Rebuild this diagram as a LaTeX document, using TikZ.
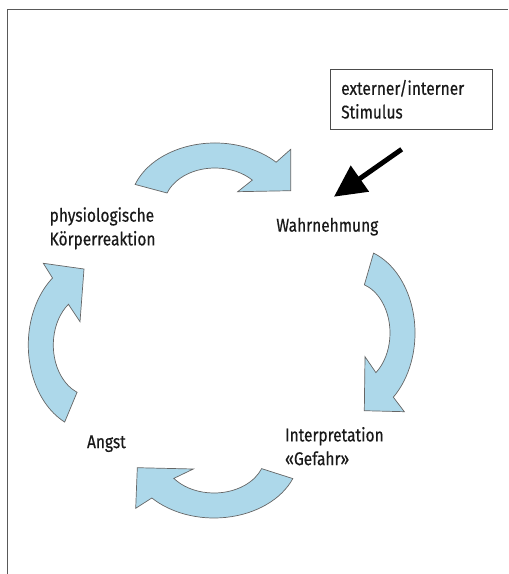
\documentclass[tikz,border=0pt]{standalone}
\usepackage{fontspec}
\setmainfont[FakeStretch=0.84, FakeBold=0.5]{Fira Sans}
\usetikzlibrary{arrows.meta}

\definecolor{arrowblue}{RGB}{173,216,234}

\begin{document}
\begin{tikzpicture}[x=0.02cm, y=-0.02cm, >=Latex,
  font=\fontsize{10.5}{13.5}\selectfont,
  bigarrow/.style={fill=arrowblue, draw=black!60, line width=0.4pt, line join=miter},
  txt/.style={inner sep=0pt, anchor=west, align=left, text=black!90}]
  \useasboundingbox (0,0) rectangle (508,574);

  % frame, cut off at right and bottom
  \draw[black!65, line width=0.8pt] (7.3,574) -- (7.3,9.3) -- (508,9.3);

  \node[txt] (koerper) at (49.3,228.3) {physiologische\\Körperreaktion};
  \node[txt] (wahr) at (276,226.7) {Wahrnehmung};
  \node[txt] (interp) at (284.7,446.2) {Interpretation\\«Gefahr»};
  \node[txt] (angst) at (86.7,443.7) {Angst};

  \node[draw=black!70, line width=0.6pt, minimum width=3.24cm, minimum height=1.2cm,
    text width=2.82cm, inner xsep=0.21cm, align=left, text=black!90] (stim) at (411.7,99.3)
    {externer/interner\\Stimulus};

  % curved block arrows
  \draw[bigarrow] (215,206) ++(-160:85 and 63)
    arc[start angle=-160, end angle=-44, x radius=85, y radius=63]
    -- (290.7,149.3) -- (290.7,190.7) -- (237.7,191.7)
    -- ([shift={(215,206)}]-43:51 and 38)
    arc[start angle=-43, end angle=-160, x radius=51, y radius=38] -- cycle;
  \draw[bigarrow] (352,333) ++(-70:63 and 85)
    arc[start angle=-70, end angle=49, x radius=63, y radius=85]
    -- (404.3,411.7) -- (364.3,410.7) -- (365,356.7)
    -- ([shift={(352,333)}]51:38 and 51)
    arc[start angle=51, end angle=-71, x radius=38, y radius=51] -- cycle;
  \draw[bigarrow] (214,455) ++(22:85 and 63)
    arc[start angle=22, end angle=137, x radius=85, y radius=63]
    -- (135.7,508.3) -- (137.3,467.7) -- (193.3,469)
    -- ([shift={(214,455)}]142:51 and 38)
    arc[start angle=142, end angle=21, x radius=51, y radius=38] -- cycle;
  \draw[bigarrow] (91.3,345) ++(115:63 and 85)
    arc[start angle=115, end angle=232, x radius=63, y radius=85]
    -- (43.3,263.3) -- (84,269) -- (80,321.7)
    -- ([shift={(91.3,345)}]233:38 and 51)
    arc[start angle=233, end angle=112, x radius=38, y radius=51] -- cycle;

  % stimulus arrow
  \coordinate (stimtail) at (401.7,149.3);
  \coordinate (stimtip) at (334,196.7);
  \draw[-{Triangle[length=18pt,width=17.5pt]}, line width=2.8pt] (stimtail) -- (stimtip);
\end{tikzpicture}
\end{document}
